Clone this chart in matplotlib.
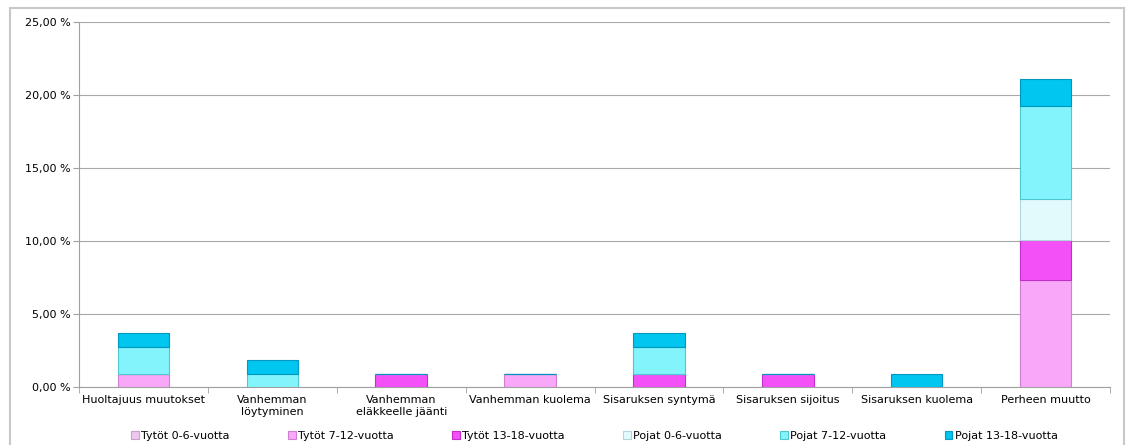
import matplotlib
matplotlib.use("Agg")
import matplotlib.pyplot as plt
from matplotlib.patches import Rectangle
from matplotlib.ticker import FuncFormatter, MultipleLocator
import numpy as np

categories = ["Huoltajuus muutokset", "Vanhemman\nlöytyminen", "Vanhemman\neläkkeelle jäänti",
              "Vanhemman kuolema", "Sisaruksen syntymä", "Sisaruksen sijoitus",
              "Sisaruksen kuolema", "Perheen muutto"]
series_names = ["Tytöt 0-6-vuotta", "Tytöt 7-12-vuotta", "Tytöt 13-18-vuotta",
                "Pojat 0-6-vuotta", "Pojat 7-12-vuotta", "Pojat 13-18-vuotta"]
u = 100 / 109
tytot_0_6 = [0, 0, 0, 0, 0, 0, 0, 0]
tytot_7_12 = [u, 0, 0, u, 0, 0, 0, 8 * u]
tytot_13_18 = [0, 0, u, 0, u, u, 0, 3 * u]
pojat_0_6 = [0, 0, 0, 0, 0, 0, 0, 3 * u]
pojat_7_12 = [2 * u, u, 0, 0, 2 * u, 0, 0, 7 * u]
pojat_13_18 = [u, u, 0, 0, u, 0, u, 2 * u]
series = [tytot_0_6, tytot_7_12, tytot_13_18, pojat_0_6, pojat_7_12, pojat_13_18]
colors = ["#ECC8F0", "#F9A8F9", "#F450F8", "#E2FAFC", "#84F4FC", "#00C6F0"]
edges = ["#C8A0CC", "#D080D0", "#C030C8", "#B0D8DC", "#50C8D0", "#0098C0"]

fig = plt.figure(figsize=(11.3, 4.45), dpi=100)
fig.patches.append(Rectangle((10 / 1130, -5 / 445), 1114 / 1130, 442 / 445, transform=fig.transFigure,
                             fill=False, edgecolor="#C8C8C8", linewidth=1.5))
ax = fig.add_axes([79 / 1130, 58 / 445, 1031 / 1130, 365 / 445])

x = np.arange(len(categories))
bottom = np.zeros(len(categories))
for name, vals, c, e in zip(series_names, series, colors, edges):
    vals = np.array(vals)
    ax.bar(x, vals, 0.4, bottom=bottom, color=c, edgecolor=e, linewidth=0.8, label=name, zorder=3)
    bottom += vals

ax.set_xlim(-0.5, len(categories) - 0.5)
ax.set_ylim(0, 25)
ax.yaxis.set_major_locator(MultipleLocator(5))
ax.yaxis.set_major_formatter(FuncFormatter(lambda v, p: f"{v:.2f}".replace(".", ",") + " %"))
ax.grid(axis="y", color="#A8A8A8", linewidth=0.8, zorder=0)
for s in ["top", "right"]:
    ax.spines[s].set_visible(False)
for s in ["left", "bottom"]:
    ax.spines[s].set_color("#A0A0A0")
ax.tick_params(axis="y", labelsize=8, length=4, color="#A0A0A0", pad=2)
ax.set_xticks(x)
ax.set_xticklabels(categories, fontsize=8)
ax.tick_params(axis="x", length=0, pad=6)
ax.set_xticks(np.arange(-0.5, len(categories), 1), minor=True)
ax.tick_params(axis="x", which="minor", length=4, color="#A0A0A0")

fig.legend(loc="lower center", bbox_to_anchor=(0.526, -0.014), ncol=6, fontsize=8, frameon=False,
           handlelength=0.7, handleheight=0.7, handletextpad=0.2, columnspacing=5.25)
fig.savefig("out.png", dpi=100)
